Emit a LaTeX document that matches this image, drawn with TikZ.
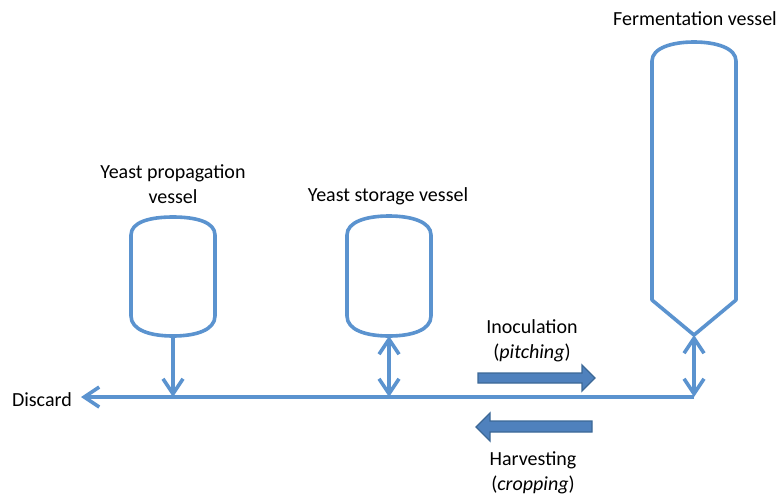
\documentclass[tikz,border=0pt]{standalone}
\usepackage{fontspec}
\setmainfont{Carlito}
\usetikzlibrary{arrows.meta}

\definecolor{pipeblue}{HTML}{5B93CF}
\definecolor{bigfill}{HTML}{4F81BD}
\definecolor{bigedge}{HTML}{3C6896}

\begin{document}
\begin{tikzpicture}[x=1pt,y=-1pt,
  pipe/.style={draw=pipeblue, line width=3.6pt, line join=round},
  barb/.tip={Straight Barb[length=15pt,width=20pt,line width=3.6pt]},
  flow/.style={pipe, -barb},
  twoway/.style={pipe, barb-barb},
  fat/.style={fill=bigfill, draw=bigedge, line width=1.3pt, line join=miter},
  lbl/.style={font=\fontsize{20}{24}\selectfont, inner sep=0pt, align=center}
]
\useasboundingbox (0,0) rectangle (783,495);

% yeast propagation vessel
\draw[pipe] (131,235) .. controls (131,222) and (150,217) .. (173,217)
  .. controls (196,217) and (215,222) .. (215,235) -- (215,316)
  .. controls (215,330) and (196,336) .. (173,336)
  .. controls (150,336) and (131,330) .. (131,316) -- cycle;
\coordinate (prop) at (173,336);

% yeast storage vessel
\draw[pipe] (347,235) .. controls (347,222) and (366,216) .. (389,216)
  .. controls (412,216) and (431,222) .. (431,235) -- (431,316)
  .. controls (431,330) and (412,336) .. (389,336)
  .. controls (366,336) and (347,330) .. (347,316) -- cycle;
\coordinate (stor) at (389,336);

% fermentation vessel (cylindro-conical)
\draw[pipe] (652,61) .. controls (652,48) and (672,42) .. (694,42)
  .. controls (716,42) and (736,48) .. (736,61) -- (736,300)
  -- (694,335) -- (652,300) -- cycle;
\coordinate (ferm) at (694,335);

% manifold
\coordinate (mainR) at (694,397);
\coordinate (propJ) at (173,397);
\coordinate (storJ) at (389,397);
\coordinate (mainL) at (81,397);
\draw[flow] (mainR) -- (mainL);
\draw[flow] (prop) -- (propJ);
\draw[twoway] (stor) -- (storJ);
\draw[twoway] (ferm) -- (mainR);

% process direction arrows
\draw[fat] (478,373) -- (582,373) -- (582,365) -- (595,378) -- (582,391)
  -- (582,383) -- (478,383) -- cycle;
\draw[fat] (592,421) -- (490,421) -- (490,413) -- (476,427) -- (490,441)
  -- (490,432) -- (592,432) -- cycle;

% labels
\node[lbl] (tFerm) at (695,19) {Fermentation vessel};
\node[lbl] (tProp) at (173,184) {Yeast propagation\\[1pt]vessel};
\node[lbl] (tStor) at (388,196) {Yeast storage vessel};
\node[lbl] (tInoc) at (532,341) {Inoculation\\[1pt](\textit{pitching})};
\node[lbl] (tHarv) at (533,473) {Harvesting\\[1pt](\textit{cropping})};
\node[lbl, anchor=east] (tDisc) at (72,400) {Discard};
\end{tikzpicture}
\end{document}
